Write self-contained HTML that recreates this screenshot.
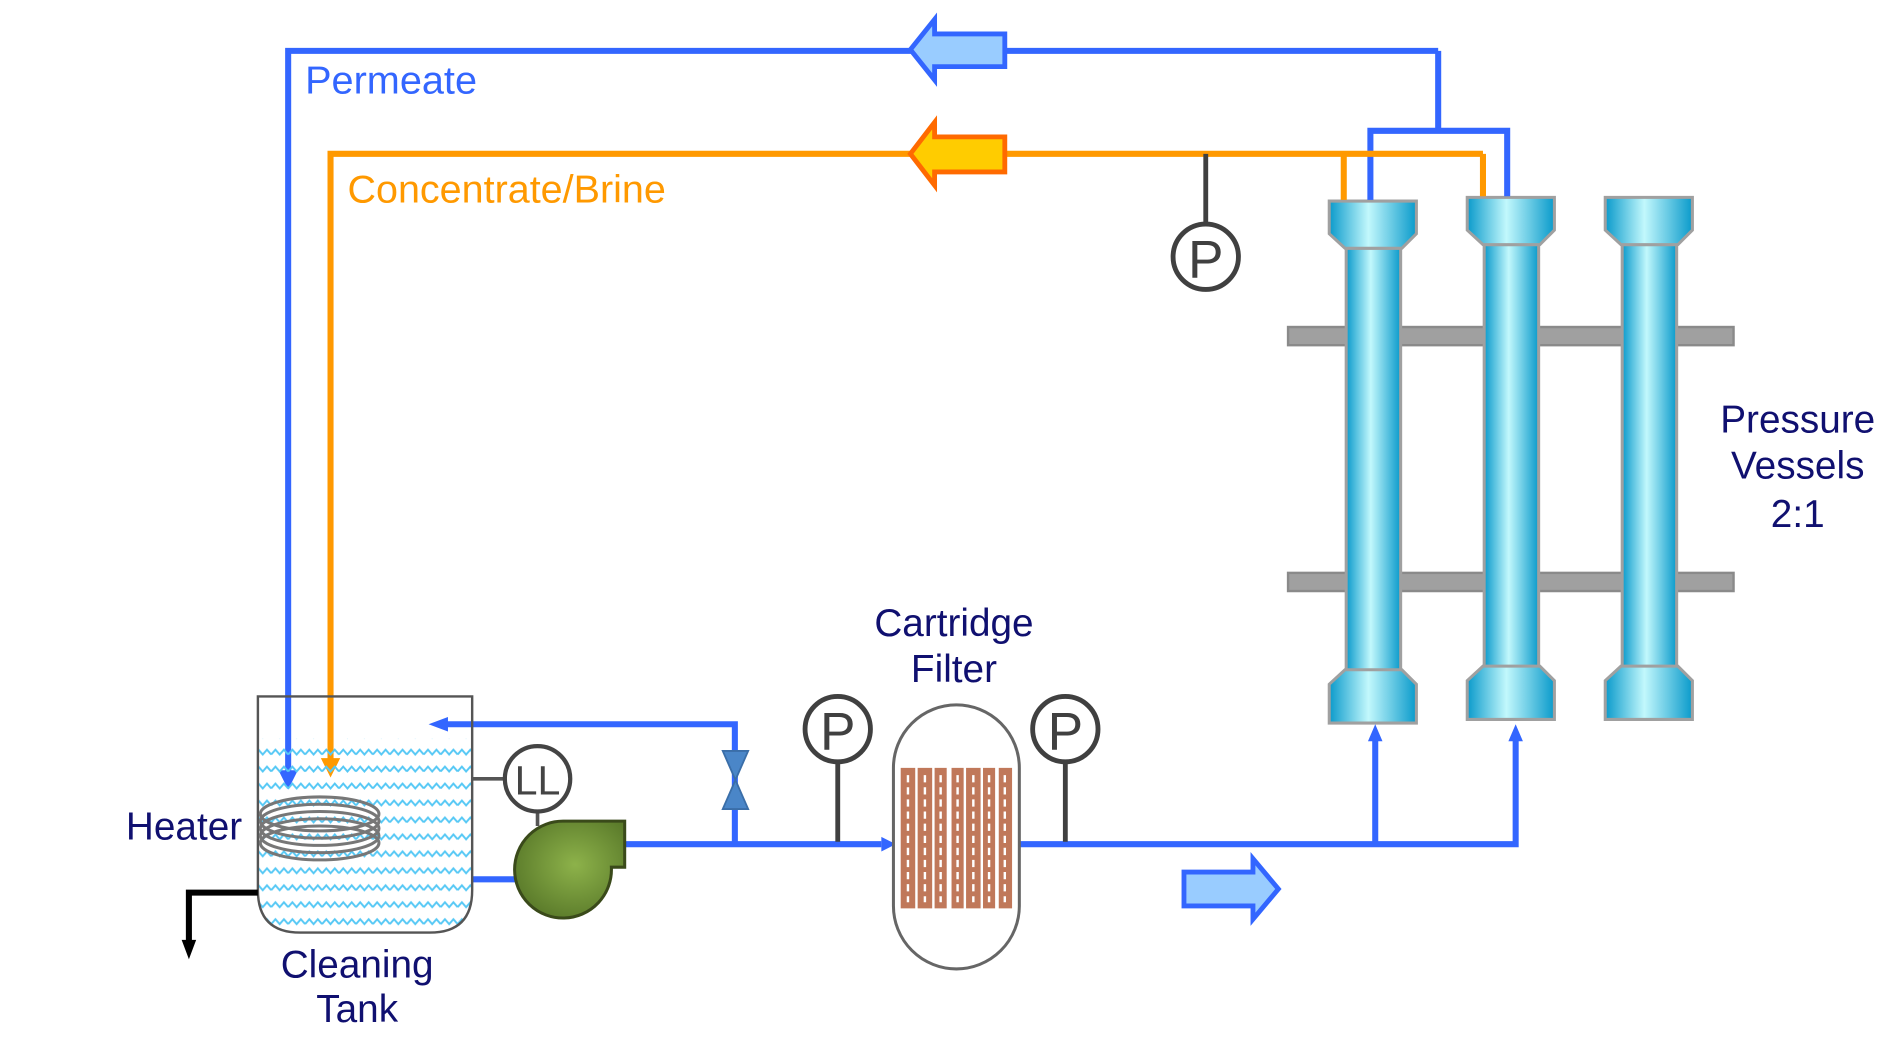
<!DOCTYPE html>
<html><head><meta charset="utf-8"><style>
html,body{margin:0;padding:0;background:#fff;}
svg{display:block;}
text{font-family:"Liberation Sans",sans-serif;}
</style></head><body>
<svg width="1899" height="1059" viewBox="0 0 1560 870" xmlns="http://www.w3.org/2000/svg">
<defs>
<linearGradient id="tube" x1="0" x2="1" y1="0" y2="0">
<stop offset="0" stop-color="#0a9acb"/><stop offset="0.45" stop-color="#c2f8fc"/><stop offset="1" stop-color="#0a9acb"/>
</linearGradient>
<radialGradient id="pump" cx="0.55" cy="0.45" r="0.6">
<stop offset="0" stop-color="#8db24a"/><stop offset="1" stop-color="#5a7a2a"/>
</radialGradient>
<pattern id="wave" width="14" height="14" patternUnits="userSpaceOnUse">
<path d="M0 7 L3.5 3 L7 7 L10.5 3 L14 7" fill="none" stroke="#55c8f5" stroke-width="1.6"/>
</pattern>
</defs>
<g transform="scale(0.9945,0.995)">
<!-- gray bars -->
<rect x="1064" y="270" width="368" height="15" fill="#a0a0a0" stroke="#8a8a8a" stroke-width="2"/>
<rect x="1064" y="473" width="368" height="15" fill="#a0a0a0" stroke="#8a8a8a" stroke-width="2"/>

<!-- vessels -->
<g stroke="#a0a0a0" stroke-width="2.5" fill="url(#tube)">
<g id="v1">
<rect x="1112" y="205" width="45" height="350"/>
<path d="M1098 166 H1170 V193 L1158 205 H1111 L1098 193 Z"/>
<path d="M1111 553 H1158 L1170 565 V597 H1098 V565 Z"/>
</g>
<use href="#v1" transform="translate(114,-3)"/>
<use href="#v1" transform="translate(228,-3)"/>
</g>

<!-- permeate lines -->
<g fill="none" stroke="#3366ff" stroke-width="5">
<path d="M1188 42 H238 V640"/>
<path d="M1188 42 V108 H1132 V165 M1188 108 H1245 V162"/>
</g>
<path d="M230 636 L238 652 L246 636 Z" fill="#3366ff"/>
<!-- concentrate -->
<g fill="none" stroke="#ff9900" stroke-width="5">
<path d="M1225 127 H273 V630"/>
<path d="M1110 127 V165 M1225 127 V162"/>
</g>
<path d="M265 626 L273 642 L281 626 Z" fill="#ff9900"/>

<!-- big arrows -->
<path d="M830 28 H772 V16 L752 41 L772 66 V55 H830 Z" fill="#99ccff" stroke="#3366ff" stroke-width="4"/>
<path d="M830 113 H772 V101 L752 127 L772 153 V142 H830 Z" fill="#ffcc00" stroke="#ff6a00" stroke-width="4"/>
<path d="M978 720 H1035 V709 L1056 734 L1035 759 V748 H978 Z" fill="#99ccff" stroke="#3366ff" stroke-width="4"/>

<!-- P gauge top -->
<line x1="996" y1="127" x2="996" y2="184" stroke="#404040" stroke-width="4"/>
<circle cx="996" cy="212" r="27" fill="#fff" stroke="#404040" stroke-width="4"/>
<text x="996" y="229" font-size="44" text-anchor="middle" fill="#404040">P</text>

<!-- main line -->
<g fill="none" stroke="#3366ff" stroke-width="5">
<path d="M516 697 H728"/>
<path d="M842 697 H1252 V610 M1136 697 V610"/>
<path d="M607 697 V598 H368"/>
<path d="M390 726 H430"/>
</g>
<path d="M728 691 L740 697 L728 703 Z" fill="#3366ff"/>
<path d="M1130 612 L1136 598 L1142 612 Z" fill="#3366ff"/>
<path d="M1246 612 L1252 598 L1258 612 Z" fill="#3366ff"/>
<path d="M370 592 L354 598 L370 604 Z" fill="#3366ff"/>

<!-- valve -->
<path d="M597 620 H618 L597 668 H618 Z" fill="#4a86c8" stroke="#3a6ea8" stroke-width="1.5"/>

<!-- gauges on main line -->
<line x1="692" y1="628" x2="692" y2="695" stroke="#404040" stroke-width="4"/>
<circle cx="692" cy="602" r="27" fill="#fff" stroke="#404040" stroke-width="4"/>
<text x="692" y="619" font-size="44" text-anchor="middle" fill="#404040">P</text>
<line x1="880" y1="628" x2="880" y2="695" stroke="#404040" stroke-width="4"/>
<circle cx="880" cy="602" r="27" fill="#fff" stroke="#404040" stroke-width="4"/>
<text x="880" y="619" font-size="44" text-anchor="middle" fill="#404040">P</text>

<!-- cartridge filter -->
<rect x="738" y="582" width="104" height="218" rx="52" fill="#fff" stroke="#666" stroke-width="2.5"/>
<g fill="#c0785a">
<rect x="744" y="634" width="12" height="116"/><rect x="758" y="634" width="12" height="116"/><rect x="772" y="634" width="10" height="116"/>
<rect x="786" y="634" width="10" height="116"/><rect x="798" y="634" width="12" height="116"/><rect x="812" y="634" width="10" height="116"/><rect x="825" y="634" width="11" height="116"/>
</g>
<g stroke="#fff" stroke-width="2" fill="none" stroke-dasharray="6 4">
<path d="M750 640 V745 M764 640 V745 M777 640 V745 M791 640 V745 M804 640 V745 M817 640 V745 M830 640 V745"/>
</g>

<!-- tank -->
<path d="M213 610 H390 V735 Q390 770 355 770 H248 Q213 770 213 735 Z" fill="url(#wave)"/>
<path d="M213 575 H390 V735 Q390 770 355 770 H248 Q213 770 213 735 Z" fill="none" stroke="#555" stroke-width="2"/>
<!-- heater coil -->
<g fill="none" stroke="#777" stroke-width="2.5">
<ellipse cx="264" cy="672" rx="49" ry="14"/><ellipse cx="264" cy="678" rx="49" ry="14"/>
<ellipse cx="264" cy="684" rx="49" ry="14"/><ellipse cx="264" cy="690" rx="49" ry="14"/><ellipse cx="264" cy="696" rx="49" ry="14"/>
</g>
<!-- drain -->
<path d="M213 737 H156 V780" fill="none" stroke="#000" stroke-width="5"/>
<path d="M150 776 L156 792 L162 776 Z" fill="#000"/>

<!-- LL -->
<line x1="390" y1="643" x2="418" y2="643" stroke="#555" stroke-width="3"/>
<line x1="444" y1="670" x2="444" y2="682" stroke="#555" stroke-width="3"/>
<circle cx="444" cy="643" r="27" fill="#fff" stroke="#444" stroke-width="3.5"/>
<text x="444" y="656" font-size="34" text-anchor="middle" fill="#444">LL</text>

<!-- pump -->
<path d="M466 678 H516 V716 H505 A40 40 0 1 1 466 678 Z" fill="url(#pump)" stroke="#3a4a1a" stroke-width="2.5"/>

<!-- labels -->
<text x="252" y="77" font-size="32" fill="#3366ff" textLength="142" lengthAdjust="spacingAndGlyphs">Permeate</text>
<text x="287" y="167" font-size="32" fill="#ff9900" textLength="263" lengthAdjust="spacingAndGlyphs">Concentrate/Brine</text>
<g font-size="32" fill="#101070" text-anchor="middle">
<text x="1485" y="357">Pressure</text>
<text x="1485" y="395">Vessels</text>
<text x="1485" y="435">2:1</text>
<text x="788" y="525">Cartridge</text>
<text x="788" y="563">Filter</text>
<text x="295" y="807">Cleaning</text>
<text x="295" y="844">Tank</text>
<text x="152" y="693">Heater</text>
</g>
</g>
</svg>
</body></html>
